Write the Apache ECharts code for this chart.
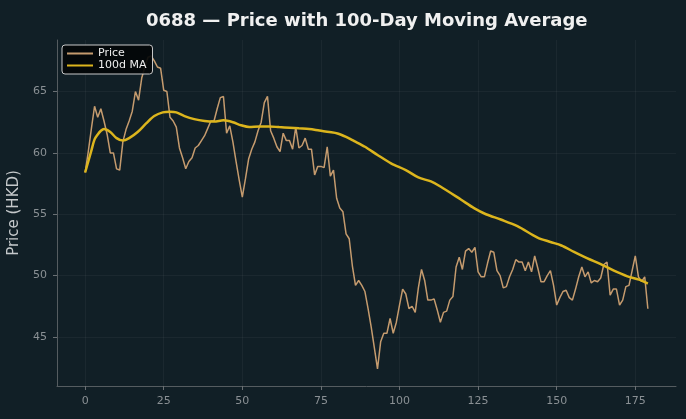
<!DOCTYPE html>
<html>
<head>
<meta charset="utf-8">
<script src="https://cdn.jsdelivr.net/npm/echarts@6/dist/echarts.min.js"></script>
<style>
  html, body { margin: 0; padding: 0; background: #111f26; }
  #chart { width: 686px; height: 419px; }
</style>
</head>
<body>
<div id="chart"></div>
<script>
// daily closing price, day 0..179
var price = [
  58.4, 60.1, 62.0, 63.8, 62.9, 63.6, 62.6, 61.5, 60.0, 60.0,
  58.7, 58.6, 60.9, 61.9, 62.6, 63.4, 65.0, 64.3, 66.1, 67.0,
  67.8, 67.9, 67.5, 67.0, 66.9, 65.1, 65.0, 62.9, 62.6, 62.1,
  60.4, 59.6, 58.7, 59.3, 59.6, 60.4, 60.6, 61.0, 61.4, 62.0,
  62.6, 62.6, 63.6, 64.5, 64.6, 61.6, 62.2, 60.9, 59.3, 57.8,
  56.4, 57.9, 59.5, 60.3, 60.9, 61.8, 62.5, 64.1, 64.6, 61.8,
  61.2, 60.5, 60.1, 61.6, 61.0, 61.0, 60.3, 62.1, 60.4, 60.6,
  61.2, 60.3, 60.3, 58.2, 58.9, 58.9, 58.8, 60.5, 58.1, 58.6,
  56.3, 55.5, 55.2, 53.4, 53.0, 50.8, 49.2, 49.6, 49.2, 48.7,
  47.3, 45.8, 44.1, 42.4, 44.6, 45.3, 45.3, 46.5, 45.3, 46.2,
  47.6, 48.9, 48.5, 47.3, 47.5, 47.0, 49.0, 50.5, 49.6, 48.0,
  48.0, 48.1, 47.2, 46.2, 47.0, 47.1, 48.0, 48.3, 50.7, 51.5,
  50.5, 52.0, 52.2, 51.9, 52.3, 50.3, 49.9, 49.9, 51.0, 52.0,
  51.9, 50.4, 50.0, 49.0, 49.1, 49.9, 50.5, 51.3, 51.1, 51.1,
  50.4, 51.1, 50.3, 51.6, 50.6, 49.5, 49.5, 50.0, 50.4, 49.2,
  47.6, 48.2, 48.7, 48.8, 48.2, 48.0, 48.9, 49.9, 50.7, 49.9,
  50.3, 49.4, 49.6, 49.5, 49.8, 50.9, 51.1, 48.4, 48.9, 48.9,
  47.6, 48.0, 49.1, 49.2, 50.4, 51.6, 49.9, 49.5, 49.9, 47.3
];

// 100-day moving average, read at these days
var maDays = [
  0, 1, 2, 3, 4, 5, 6, 8, 10, 12,
  14, 16.7, 19.4, 22, 24.7, 27, 29, 31.6, 34.7, 38,
  41, 44, 47, 49.6, 52.2, 55.4, 58.6, 61.7, 65, 68,
  71.3, 74.5, 77.7, 80.3, 83, 85.6, 89, 93, 97.3, 102,
  106, 110, 113, 119.5, 123.7, 127.5, 132.2, 137.5, 143.9, 148,
  151.5, 155.5, 159.8, 164, 168.2, 172.5, 176.2, 179
];
var maValues = [
  58.4, 59.3, 60.2, 61.1, 61.5, 61.8, 61.95, 61.7, 61.2, 61.0,
  61.2, 61.7, 62.4, 63.0, 63.3, 63.35, 63.3, 63.0, 62.75, 62.6,
  62.55, 62.65, 62.5, 62.25, 62.1, 62.15, 62.15, 62.1, 62.05, 62.0,
  61.95, 61.82, 61.7, 61.58, 61.3, 60.96, 60.5, 59.83, 59.15, 58.6,
  58.0, 57.67, 57.26, 56.2, 55.5, 55.0, 54.57, 54.03, 53.1, 52.74,
  52.45, 51.93, 51.4, 50.93, 50.4, 49.94, 49.67, 49.35
];

var xTicks = [0, 25, 50, 75, 100, 125, 150, 175];
var yTicks = [45, 50, 55, 60, 65];

var priceData = price.map(function (v, i) { return [i, v]; });
var maData = maDays.map(function (d, i) { return [d, maValues[i]]; });

var chart = echarts.init(document.getElementById('chart'));

var option = {
  backgroundColor: '#111f26',
  animation: false,
  textStyle: { fontFamily: 'DejaVu Sans' },
  title: {
    text: '0688 — Price with 100-Day Moving Average',
    left: 141,
    top: 7,
    textStyle: {
      color: '#f0f0f0',
      fontSize: 18,
      fontWeight: 'bold',
      fontFamily: 'DejaVu Sans'
    }
  },
  legend: {
    orient: 'vertical',
    left: 62,
    top: 45,
    padding: [3, 6, 3, 4],
    itemWidth: 26,
    itemHeight: 12,
    itemGap: 1,
    itemStyle: { opacity: 0 },
    backgroundColor: 'rgba(3,6,8,0.92)',
    borderColor: '#c8c8c8',
    borderWidth: 1,
    borderRadius: 3,
    textStyle: { color: '#eeeeee', fontSize: 11, fontFamily: 'DejaVu Sans' },
    data: ['Price', '100d MA']
  },
  grid: {
    left: 57,
    right: 10,
    top: 40,
    bottom: 33,
    outerBoundsMode: 'none'
  },
  xAxis: {
    type: 'value',
    min: -8.95,
    max: 187.95,
    axisLine: { show: true, onZero: false, lineStyle: { color: '#555c60' } },
    axisTick: { show: true, length: 4, customValues: xTicks, lineStyle: { color: '#6a7074' } },
    axisLabel: { customValues: xTicks, color: '#8a9094', fontSize: 11, margin: 10 },
    splitLine: { show: true, lineStyle: { color: 'rgba(255,255,255,0.045)', width: 1 } }
  },
  yAxis: {
    type: 'value',
    min: 41.0,
    max: 69.2,
    name: 'Price (HKD)',
    nameLocation: 'middle',
    nameRotate: 90,
    nameGap: 29,
    nameTextStyle: { color: '#c4c8ca', fontSize: 15, fontFamily: 'DejaVu Sans' },
    axisLine: { show: true, onZero: false, lineStyle: { color: '#555c60' } },
    axisTick: { show: true, length: 4, customValues: yTicks, lineStyle: { color: '#6a7074' } },
    axisLabel: { customValues: yTicks, color: '#8a9094', fontSize: 11, margin: 10 },
    splitLine: { show: true, lineStyle: { color: 'rgba(255,255,255,0.045)', width: 1 } }
  },
  series: [
    {
      name: 'Price',
      type: 'line',
      data: priceData,
      symbol: 'none',
      lineStyle: { color: '#c59b6e', width: 1.5 },
      itemStyle: { color: '#c59b6e' }
    },
    {
      name: '100d MA',
      type: 'line',
      data: maData,
      symbol: 'none',
      smooth: 0.3,
      lineStyle: { color: '#dcb51d', width: 2.5 },
      itemStyle: { color: '#dcb51d' }
    }
  ]
};

chart.setOption(option);
</script>
</body>
</html>
